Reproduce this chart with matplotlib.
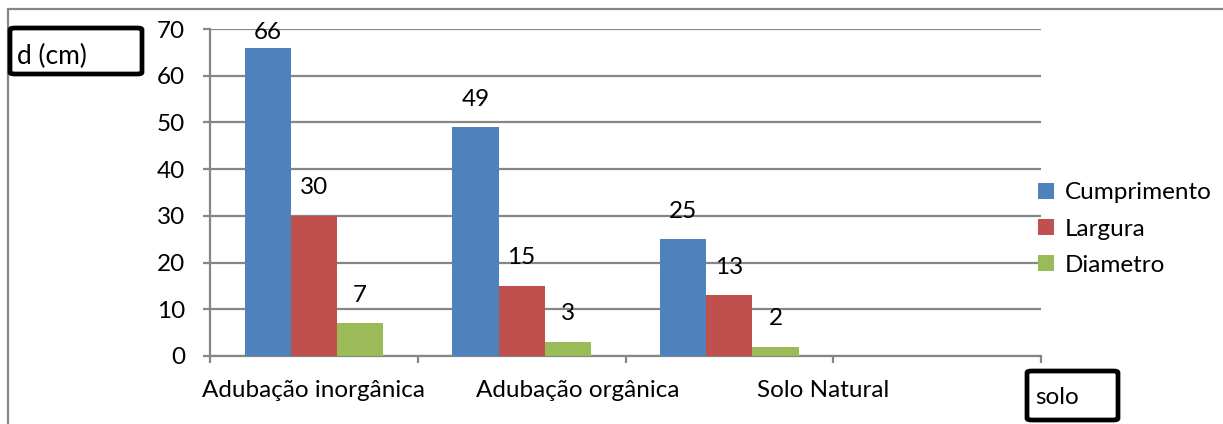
import matplotlib.pyplot as plt
from matplotlib.patches import Rectangle, FancyBboxPatch

# Data
categories = ['Adubação inorgânica', 'Adubação orgânica', 'Solo Natural', '']
label_pos = [0, 1.27, 2.45]
series_names = ['Cumprimento', 'Largura', 'Diametro']
cumprimento = [66, 49, 25, 0]
largura = [30, 15, 13, 0]
diametro = [7, 3, 2, 0]
colors = ['#4F81BD', '#C0504D', '#9BBB59']

plt.rcParams['font.family'] = ['Lato', 'DejaVu Sans']
fs = 17.5
gray = '#868686'

fig = plt.figure(figsize=(12.23, 4.24), dpi=100)
ax = fig.add_axes([210 / 1223, 68 / 424, 831 / 1223, 327 / 424])

w = 0.222
all_series = [cumprimento, largura, diametro]
n_real = 3
for k, (vals, name, c) in enumerate(zip(all_series, series_names, colors)):
    xs = [i + (k - 1) * w for i in range(len(vals))]
    ax.bar(xs[:n_real], vals[:n_real], width=w, color=c, label=name, zorder=3)
    for x, v in zip(xs[:n_real], vals[:n_real]):
        ax.text(x, min(v + 6, 69.2), str(v), ha='center', va='center',
                fontsize=fs, color='black', zorder=4)

ax.set_xlim(-0.5, len(categories) - 0.5)
ax.set_ylim(0, 70)
ax.set_yticks(range(0, 71, 10))
ax.yaxis.grid(True, color=gray, linewidth=1.6, zorder=0)
ax.set_axisbelow(True)

ax.set_xticks([i - 0.5 for i in range(len(categories) + 1)])
ax.set_xticklabels([])
ax.set_xticks(label_pos, minor=True)
ax.set_xticklabels(categories[:3], minor=True, fontsize=fs)
ax.tick_params(axis='x', which='major', length=5, width=1.6, color=gray)
ax.tick_params(axis='x', which='minor', length=0, pad=17)
ax.tick_params(axis='y', length=5, width=1.6, color=gray, pad=13, labelsize=fs)

for s in ['top', 'right']:
    ax.spines[s].set_visible(False)
for s in ['left', 'bottom']:
    ax.spines[s].set_color(gray)
    ax.spines[s].set_linewidth(1.6)

ax.legend(loc='center left', bbox_to_anchor=(1038 / 1223, 1 - 229 / 424),
          bbox_transform=fig.transFigure, frameon=False, fontsize=fs,
          handlelength=0.65, handleheight=0.65, handletextpad=0.45,
          labelspacing=0.62, borderaxespad=0, borderpad=0)

# outer chart border (top and left visible)
fig.patches.append(Rectangle((8 / 1223, -0.1), 1.2, (424 - 9) / 424 + 0.1,
                             transform=fig.transFigure, fill=False,
                             edgecolor=gray, linewidth=1.6))

# axis title boxes
def title_box(x0, y0, x1, y1, text, tx, ty, size):
    fig.patches.append(FancyBboxPatch((x0 / 1223, 1 - y1 / 424),
                                      (x1 - x0) / 1223, (y1 - y0) / 424,
                                      boxstyle='round,pad=0,rounding_size=0.004',
                                      transform=fig.transFigure, fill=False,
                                      edgecolor='black', linewidth=3.4))
    fig.text(tx / 1223, 1 - ty / 424, text, ha='left', va='center',
             fontsize=size)

title_box(10, 28, 142, 74, 'd (cm)', 17, 56, 19)
title_box(1027, 371, 1118, 420, 'solo', 1035, 398, fs)

fig.savefig('out.png', dpi=100)
